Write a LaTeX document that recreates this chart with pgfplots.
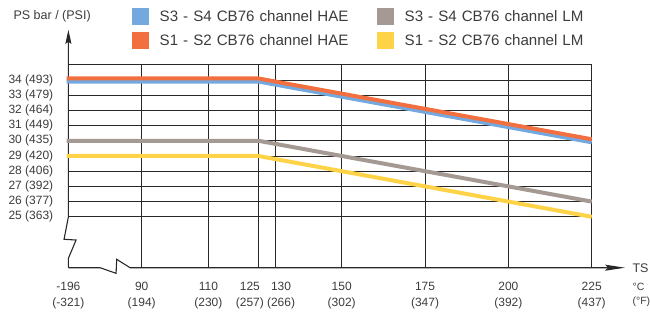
\documentclass[border=0pt]{standalone}
\usepackage{pgfplots}
\pgfplotsset{compat=1.18}
\usepackage{fontspec}
\setmainfont{Liberation Sans}
\usetikzlibrary{arrows.meta}
\definecolor{cblue}{RGB}{116,169,223}
\definecolor{corange}{RGB}{242,112,64}
\definecolor{cgrey}{RGB}{164,154,147}
\definecolor{cyellow}{RGB}{255,211,72}
\definecolor{ctext}{RGB}{60,60,60}
\definecolor{cgrid}{RGB}{40,40,40}
\begin{document}
\begin{tikzpicture}
\useasboundingbox (-68.4pt,-46.3pt) rectangle (581.6pt,267.7pt);
\begin{axis}[
  x=3.3333pt, y=15.2pt,
  xmin=68, xmax=225, ymin=21.65, ymax=35,
  clip=false,
  axis lines*=left,
  axis line style={draw=none},
  major tick length=0pt,
  tick style={draw=none},
  xtick={68,90,110,125,130,150,175,200,225},
  xticklabels={{-196\\(-321)},{90\\(194)},{110\\(230)},{\hspace*{-17pt}125\\\hspace*{-17pt}(257)},{\hspace*{12pt}130\\\hspace*{12pt}(266)},{150\\(302)},{175\\(347)},{200\\(392)},{225\\(437)}},
  xticklabel style={align=center, anchor=north, inner sep=0pt, yshift=-14.5pt, font=\fontsize{12}{16}\selectfont, text=ctext},
  ytick={25,...,34},
  yticklabels={25 (363),26 (377),27 (392),28 (406),29 (420),30 (435),31 (449),32 (464),33 (479),34 (493)},
  yticklabel style={anchor=east, inner sep=0pt, xshift=-15pt, font=\fontsize{12}{14}\selectfont, text=ctext},
  legend columns=2,
  legend cell align=left,
  legend style={at={(axis cs:87,38.74)}, anchor=north west, draw=none, fill=none,
    inner sep=0pt, outer sep=0pt, row sep=7pt, column sep=0pt,
    nodes={inner sep=0pt, text=ctext},
    font=\fontsize{15.1}{18}\selectfont,
    /tikz/every even column/.append style={text width=217pt}},
  legend image code/.code={\fill[#1,draw=none] (0pt,-8.5pt) rectangle (17pt,8.5pt); \path[draw=none,fill=none] (0pt,0pt) -- (28pt,0pt);},
]
% grid
\pgfplotsinvokeforeach{25,26,...,35}{\draw[cgrid, line width=0.9pt] (axis cs:68,#1) -- (axis cs:225,#1);}
\pgfplotsinvokeforeach{90,110,125,130,150,175,200,225}{\draw[cgrid, line width=0.9pt] (axis cs:#1,21.65) -- (axis cs:#1,35);}
% axes with breaks
\draw[cgrid, line width=1.1pt, -{Stealth[length=14pt,width=6pt,inset=2pt]}]
  (axis cs:68,21.65) -- (axis cs:68,22.27) -- (axis cs:70.3,23.47) -- (axis cs:66.7,23.52) -- (axis cs:68,25) -- (axis cs:68,37.3);
\draw[cgrid, line width=1.1pt, -{Stealth[length=20pt,width=6pt,inset=3pt]}]
  (axis cs:68,21.65) -- (axis cs:77.5,21.65) -- (axis cs:82.3,21.28) -- (axis cs:82.5,22.2) -- (axis cs:86.5,21.65) -- (axis cs:235,21.65);
% data
\addplot[cblue, line width=4pt, mark=none] coordinates {(67.5,33.9) (125,33.9) (225,29.9)};
\addlegendentry{S3 - S4 CB76 channel HAE}
\addplot[cgrey, line width=4pt, mark=none] coordinates {(67.5,30) (125,30) (225,26)};
\addlegendentry{S3 - S4 CB76 channel LM}
\addplot[corange, line width=4pt, mark=none] coordinates {(67.5,34.1) (125,34.1) (225,30.1)};
\addlegendentry{S1 - S2 CB76 channel HAE}
\addplot[cyellow, line width=4pt, mark=none] coordinates {(67.5,29) (125,29) (225,25)};
\addlegendentry{S1 - S2 CB76 channel LM}
% labels
\node[anchor=base west, inner sep=0pt, font=\fontsize{12.5}{15}\selectfont, text=ctext] at (axis cs:51.5,37.99) {PS bar / (PSI)};
\node[anchor=base west, inner sep=0pt, font=\fontsize{12.5}{15}\selectfont, text=ctext] at (axis cs:237.2,21.35) {TS};
\node[anchor=base west, inner sep=0pt, font=\fontsize{10.5}{15}\selectfont, text=ctext] at (axis cs:237.2,20.14) {°C};
\node[anchor=base west, inner sep=0pt, font=\fontsize{10.5}{15}\selectfont, text=ctext] at (axis cs:237.2,19.2) {(°F)};
\end{axis}
\end{tikzpicture}
\end{document}
